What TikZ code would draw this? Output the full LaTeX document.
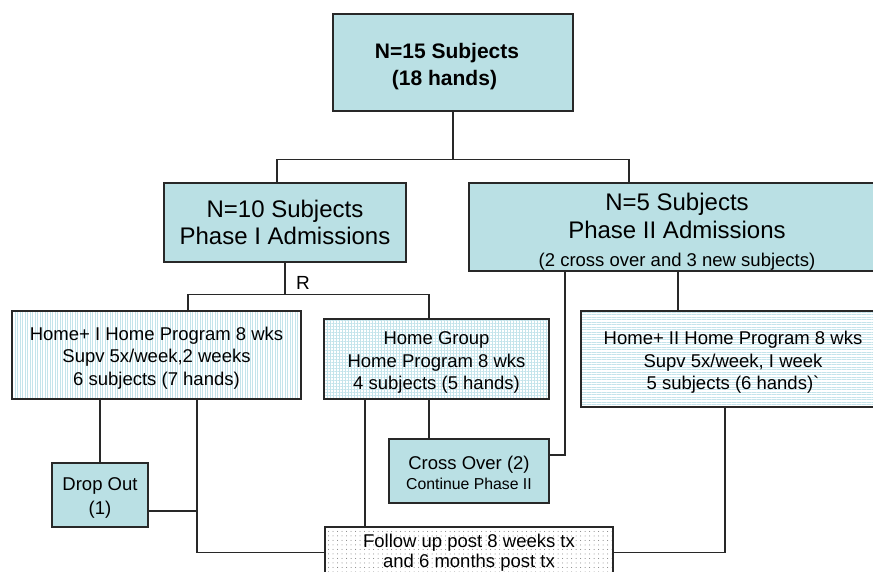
\documentclass[tikz,border=0pt]{standalone}
\usepackage{fontspec}
\setmainfont{Liberation Sans}
\usetikzlibrary{patterns.meta}
\definecolor{boxfill}{RGB}{186,224,228}
\definecolor{hatchcol}{RGB}{196,228,235}
\definecolor{dotcol}{RGB}{120,120,120}
\definecolor{edge}{RGB}{40,40,40}
\newcommand{\bigtxt}{\fontsize{24}{27.5}\selectfont}
\newcommand{\midtxt}{\fontsize{18.5}{22.5}\selectfont}
\newcommand{\lowerby}[1]{\rule{0pt}{#1}}

\begin{document}
\begin{tikzpicture}[x=1pt,y=-1pt,
  box/.style={draw=edge, line width=1.3pt, inner sep=0pt, align=center},
  solidbox/.style={box, fill=boxfill},
  link/.style={draw=edge, line width=1.2pt}]
\useasboundingbox (0,0) rectangle (873,572);
\clip (0,0) rectangle (873,572);
\node[solidbox, minimum width=240pt, minimum height=97pt, font=\fontsize{21}{27}\selectfont\bfseries] (top) at (453,62.5) {\lowerby{24pt}N=15 Subjects\kern12pt\\(18 hands)\kern17pt};
\node[solidbox, minimum width=242pt, minimum height=79pt, font=\bigtxt] (phaseI) at (285,222.5) {N=10 Subjects\\Phase I Admissions};
\node[solidbox, minimum width=416pt, minimum height=88pt, font=\fontsize{24}{28}\selectfont] (phaseII) at (677,227) {\lowerby{27pt}N=5 Subjects\\Phase II Admissions\\{\midtxt (2 cross over and 3 new subjects)}};
\node[box, pattern={Lines[angle=90,distance=2.5pt,line width=0.5pt]}, pattern color=hatchcol, minimum width=289pt, minimum height=88pt, font=\midtxt] (homeI) at (156.5,355) {\lowerby{19.5pt}Home+ I Home Program 8 wks\\Supv 5x/week,2 weeks\\6 subjects (7 hands)};
\node[box, pattern={Hatch[distance=3pt,line width=0.45pt]}, pattern color=hatchcol, minimum width=225pt, minimum height=80pt, font=\midtxt] (homegrp) at (436.5,359) {\lowerby{20pt}Home Group\\Home Program 8 wks\\4 subjects (5 hands)};
\node[box, pattern={Lines[angle=0,distance=2.5pt,line width=0.5pt]}, pattern color=hatchcol, minimum width=304pt, minimum height=96pt, font=\midtxt] (homeII) at (733,359) {\lowerby{20pt}Home+ II Home Program 8 wks\\Supv 5x/week, I week\\5 subjects (6 hands)\textasciigrave};
\node[solidbox, minimum width=96pt, minimum height=64pt, font=\fontsize{18.5}{24}\selectfont] (dropout) at (100,495) {\lowerby{19.5pt}Drop Out\\(1)};
\node[solidbox, minimum width=160pt, minimum height=64pt, font=\fontsize{18.5}{20}\selectfont] (crossover) at (469,471) {\lowerby{17.5pt}Cross Over (2)\\{\fontsize{15.8}{20}\selectfont Continue Phase II}};
\node[box, pattern={Dots[distance=4.5pt,radius=0.5pt]}, pattern color=dotcol, minimum width=288pt, minimum height=51pt, font=\fontsize{18.5}{20.5}\selectfont] (followup) at (469,552.5) {Follow up post 8 weeks tx\\and 6 months post tx};
\node[font=\fontsize{19}{19}\selectfont] (rlabel) at (303,283) {R};

\coordinate (dropjoin) at ([yshift=-16pt]dropout.east);
\coordinate (crossjoin) at ([yshift=16pt]crossover.east);
\draw[link] (top.south) -- ++(0,48) coordinate (split1);
\draw[link] ([xshift=-8pt]phaseI.north) |- (split1) -| ([xshift=-48pt]phaseII.north);
\draw[link] (phaseI.south) -- ++(0,32) coordinate (split2);
\draw[link] ([xshift=31.5pt]homeI.north) |- (split2) -| ([xshift=-7.5pt]homegrp.north);
\draw[link] (dropout.north) -- (dropout.north |- homeI.south);
\draw[link] ([xshift=40.5pt]homeI.south) |- (followup.west);
\draw[link] (dropjoin) -- ([xshift=40.5pt]homeI.south |- dropjoin);
\draw[link] ([xshift=-71.5pt]homegrp.south) -- ([xshift=-71.5pt]homegrp.south |- followup.north);
\draw[link] ([xshift=-7.5pt]homegrp.south) -- ([xshift=-7.5pt]homegrp.south |- crossover.north);
\draw[link] (crossjoin) -| ([xshift=-112pt]phaseII.south);
\draw[link] ([xshift=1pt]phaseII.south) -- ([xshift=1pt]phaseII.south |- homeII.north);
\draw[link] ([xshift=-8pt]homeII.south) |- (followup.east);
\end{tikzpicture}
\end{document}
